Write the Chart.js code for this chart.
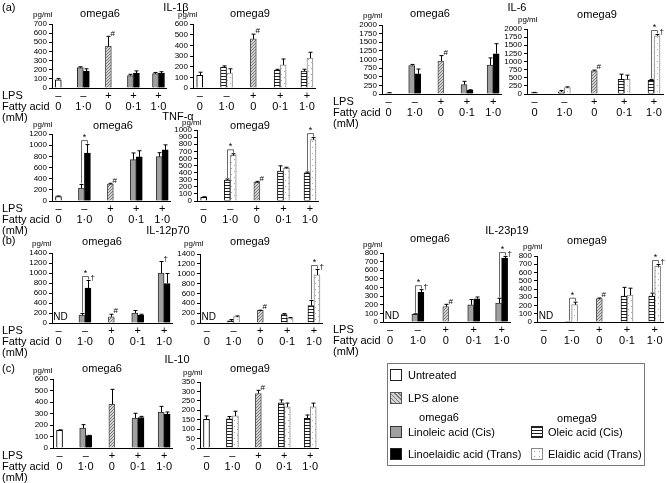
<!DOCTYPE html>
<html>
<head>
<meta charset="utf-8">
<script src="https://cdn.jsdelivr.net/npm/chart.js@4.4.1/dist/chart.umd.min.js"></script>
<style>
  body { margin: 0; background: #fff; }
  #fig { position: relative; width: 667px; height: 483px; overflow: hidden; font-family: "Liberation Sans", Arial, sans-serif; color: #000; }
  #fig canvas { position: absolute; }
  .t { position: absolute; font-size: 11px; line-height: 11px; white-space: nowrap; }
  .rows { position: absolute; font-size: 11px; line-height: 11px; white-space: nowrap; }
  .sw { position: absolute; width: 12px; height: 12px; border: 1px solid #222; box-sizing: border-box; }
</style>
</head>
<body>
<div id="fig"></div>
<script>
const lpsRow = ['–', '–', '+', '+', '+'];
const fattyRow = ['0', '1·0', '0', '0·1', '1·0'];

// bar order: untreated, cis 1·0, trans 1·0, LPS alone, cis 0·1, trans 0·1, cis 1·0, trans 1·0
const il1bO6Mean = [90, 222, 185, 455, 135, 162, 158, 160];
const il1bO6Sd   = [12, 10, 25, 110, 15, 25, 12, 18];
const il1bO6Mark = ['', '', '', '#', '', '', '', ''];
const il1bO6Star = [];

const il1bO9Mean = [118, 195, 140, 460, 165, 217, 158, 280];
const il1bO9Sd   = [30, 12, 40, 45, 10, 55, 18, 55];
const il1bO9Mark = ['', '', '', '#', '', '', '', ''];
const il1bO9Star = [];

const il6O6Mean = [30, 827, 584, 953, 272, 107, 837, 1167];
const il6O6Sd   = [10, 30, 140, 160, 95, 15, 210, 290];
const il6O6Mark = ['', '', '', '#', '', '', '', ''];
const il6O6Star = [];

const il6O9Mean = [40, 65, 195, 710, 450, 450, 420, 1790];
const il6O9Sd   = [10, 45, 25, 25, 160, 130, 30, 40];
const il6O9Mark = ['', '', '', '#', '', '', '', '†'];
const il6O9Star = [4];

const tnfO6Mean = [80, 230, 860, 305, 740, 790, 795, 915];
const tnfO6Sd   = [10, 65, 150, 12, 120, 110, 70, 90];
const tnfO6Mark = ['', '', '', '#', '', '', '', ''];
const tnfO6Star = [1];

const tnfO9Mean = [50, 295, 643, 262, 420, 460, 398, 865];
const tnfO9Sd   = [10, 15, 22, 14, 75, 15, 10, 28];
const tnfO9Mark = ['', '', '', '#', '', '', '', ''];
const tnfO9Star = [1, 4];

const il12O6Mean = [null, 160, 700, 125, 200, 155, 1000, 790];
const il12O6Sd   = [0, 30, 150, 50, 50, 20, 230, 200];
const il12O6Mark = ['', '', '†', '#', '', '', '†', ''];
const il12O6Star = [1];

const il12O9Mean = [null, 45, 128, 255, 170, 100, 355, 975];
const il12O9Sd   = [0, 25, 15, 5, 20, 12, 100, 110];
const il12O9Mark = ['', '', '', '#', '', '', '', '†'];
const il12O9Star = [4];

const il23O6Mean = [null, 90, 345, 180, 200, 270, 220, 740];
const il23O6Sd   = [0, 5, 30, 25, 60, 20, 55, 20];
const il23O6Mark = ['', '', '†', '#', '', '', '', '†'];
const il23O6Star = [1, 4];

const il23O9Mean = [null, 5, 210, 283, 315, 325, 315, 675];
const il23O9Sd   = [0, 0, 30, 8, 105, 85, 35, 22];
const il23O9Mark = ['', '', '', '#', '', '', '', '†'];
const il23O9Star = [1, 4];

const il10O6Mean = [153, 173, 107, 380, 260, 265, 312, 295];
const il10O6Sd   = [5, 30, 3, 130, 42, 10, 50, 18];
const il10O6Mark = ['', '', '', '', '', '', '', ''];
const il10O6Star = [];

const il10O9Mean = [152, 155, 170, 289, 240, 218, 158, 218];
const il10O9Sd   = [18, 12, 25, 17, 15, 20, 17, 20];
const il10O9Mark = ['', '', '', '#', '', '', '', ''];
const il10O9Star = [];

const panels = [
  { mean: il1bO6Mean, sd: il1bO6Sd, mark: il1bO6Mark, star: il1bO6Star, o9: false, max: 700, step: 100, axis: 52, top: 24, zero: 88, right: 166, title: 'omega6', tx: 100, ty: 13, pgx: 33, pgy: 15 },
  { mean: il1bO9Mean, sd: il1bO9Sd, mark: il1bO9Mark, star: il1bO9Star, o9: true, max: 600, step: 100, axis: 193, top: 24, zero: 88, right: 315, title: 'omega9', tx: 250, ty: 13, pgx: 178, pgy: 15 },
  { mean: il6O6Mean, sd: il6O6Sd, mark: il6O6Mark, star: il6O6Star, o9: false, max: 2000, step: 250, axis: 382, top: 25, zero: 94, right: 501, title: 'omega6', tx: 430, ty: 13, pgx: 363, pgy: 16 },
  { mean: il6O9Mean, sd: il6O9Sd, mark: il6O9Mark, star: il6O9Star, o9: true, max: 2000, step: 250, axis: 527, top: 29, zero: 94, right: 663, title: 'omega9', tx: 597, ty: 14, pgx: 518, pgy: 20 },
  { mean: tnfO6Mean, sd: tnfO6Sd, mark: tnfO6Mark, star: tnfO6Star, o9: false, max: 1200, step: 200, axis: 52, top: 134, zero: 201, right: 170, title: 'omega6', tx: 113, ty: 125, pgx: 33, pgy: 125 },
  { mean: tnfO9Mean, sd: tnfO9Sd, mark: tnfO9Mark, star: tnfO9Star, o9: true, max: 1000, step: 100, axis: 197, top: 130, zero: 201, right: 318, title: 'omega9', tx: 250, ty: 125, pgx: 182, pgy: 123 },
  { mean: il12O6Mean, sd: il12O6Sd, mark: il12O6Mark, star: il12O6Star, o9: false, max: 1400, step: 200, axis: 52, top: 253, zero: 323, right: 172, title: 'omega6', tx: 102, ty: 241, pgx: 32, pgy: 244 },
  { mean: il12O9Mean, sd: il12O9Sd, mark: il12O9Mark, star: il12O9Star, o9: true, max: 1400, step: 200, axis: 200, top: 254, zero: 323, right: 322, title: 'omega9', tx: 250, ty: 241, pgx: 184, pgy: 244 },
  { mean: il23O6Mean, sd: il23O6Sd, mark: il23O6Mark, star: il23O6Star, o9: false, max: 800, step: 100, axis: 383, top: 253, zero: 322, right: 510, title: 'omega6', tx: 430, ty: 238, pgx: 363, pgy: 245 },
  { mean: il23O9Mean, sd: il23O9Sd, mark: il23O9Mark, star: il23O9Star, o9: true, max: 800, step: 100, axis: 537, top: 256, zero: 322, right: 663, title: 'omega9', tx: 587, ty: 240, pgx: 523, pgy: 247 },
  { mean: il10O6Mean, sd: il10O6Sd, mark: il10O6Mark, star: il10O6Star, o9: false, max: 600, step: 100, axis: 53, top: 379, zero: 448, right: 172, title: 'omega6', tx: 102, ty: 368, pgx: 33, pgy: 371 },
  { mean: il10O9Mean, sd: il10O9Sd, mark: il10O9Mark, star: il10O9Star, o9: true, max: 350, step: 50, axis: 200, top: 382, zero: 448, right: 318, title: 'omega9', tx: 250, ty: 368, pgx: 183, pgy: 373 }
];

const fig = document.getElementById('fig');
Chart.defaults.font.family = '"Liberation Sans", Arial, sans-serif';

function addText(text, x, y, centered, size) {
  const d = document.createElement('div');
  d.className = 't';
  d.textContent = text;
  d.style.left = x + 'px';
  d.style.top = y + 'px';
  if (size) { d.style.fontSize = size + 'px'; d.style.lineHeight = size + 'px'; }
  d.style.transform = centered ? 'translate(-50%, -50%)' : 'translateY(-50%)';
  fig.appendChild(d);
}

function makePattern(kind) {
  const c = document.createElement('canvas');
  const g = c.getContext('2d');
  if (kind === 'hatch') {
    c.width = 3; c.height = 3;
    g.fillStyle = '#d4d4d4'; g.fillRect(0, 0, 3, 3);
    g.fillStyle = '#7a7a7a';
    for (let i = 0; i < 3; i++) g.fillRect(i, 2 - i, 1, 1);
  } else if (kind === 'stripes') {
    c.width = 3; c.height = 3;
    g.fillStyle = '#fff'; g.fillRect(0, 0, 3, 3);
    g.fillStyle = '#222'; g.fillRect(0, 0, 3, 1);
  } else {
    c.width = 6; c.height = 6;
    g.fillStyle = '#fff'; g.fillRect(0, 0, 6, 6);
    g.fillStyle = '#aaa';
    g.fillRect(1, 1, 1, 1); g.fillRect(4, 4, 1, 1);
  }
  return g.createPattern(c, 'repeat');
}
const hatch = makePattern('hatch');
const stripes = makePattern('stripes');
const dots = makePattern('dots');

const errorBars = {
  id: 'errorBars',
  afterDatasetsDraw(chart, args, opts) {
    const ctx = chart.ctx;
    const y = chart.scales.y;
    const xs = chart.scales.x;
    const tops = {};
    ctx.save();
    ctx.strokeStyle = '#000';
    ctx.fillStyle = '#000';
    ctx.lineWidth = 1;
    chart.data.datasets.forEach((ds, di) => {
      const meta = chart.getDatasetMeta(di);
      ds.data.forEach((p, i) => {
        if (p.y === null) return;
        const bar = meta.data[i];
        const x = Math.round(bar.x) + 0.5;
        const yTop = y.getPixelForValue(p.y + p.sd);
        tops[di + '-' + i] = { x: x, y: yTop };
        if (p.sd > 0) {
          ctx.beginPath();
          ctx.moveTo(x, bar.y);
          ctx.lineTo(x, yTop);
          ctx.moveTo(x - 2, yTop);
          ctx.lineTo(x + 2, yTop);
          ctx.stroke();
        }
        if (p.mark) {
          ctx.font = '8px "Liberation Sans", Arial';
          ctx.textAlign = 'left';
          ctx.textBaseline = 'bottom';
          ctx.fillText(p.mark, x + 2, yTop + 1);
        }
      });
    });
    // brackets between cis and trans bars
    ctx.strokeStyle = '#444';
    ctx.lineWidth = 0.8;
    (opts.stars || []).forEach(g => {
      const a = tops['1-' + g], b = tops['2-' + g];
      if (!a || !b) return;
      const level = Math.min(a.y, b.y) - 4;
      ctx.beginPath();
      ctx.moveTo(a.x, a.y - 1);
      ctx.lineTo(a.x, level);
      ctx.lineTo(b.x, level);
      ctx.lineTo(b.x, b.y - 1);
      ctx.stroke();
      ctx.font = '9px "Liberation Sans", Arial';
      ctx.textAlign = 'center';
      ctx.textBaseline = 'middle';
      ctx.fillText('*', (a.x + b.x) / 2, level - 3);
    });
    const first = chart.data.datasets[0].data[0];
    if (first.y === null) {
      ctx.font = '10px "Liberation Sans", Arial';
      ctx.textAlign = 'center';
      ctx.textBaseline = 'bottom';
      ctx.fillText('ND', xs.getPixelForValue(0) + 2, y.getPixelForValue(0) - 1);
    }
    ctx.restore();
  }
};

function drawPanel(p) {
  const cv = document.createElement('canvas');
  cv.width = p.right - p.axis + 38;
  cv.height = p.zero - p.top + 36;
  cv.style.left = (p.axis - 30) + 'px';
  cv.style.top = (p.top - 8) + 'px';
  fig.appendChild(cv);

  const pt = (x, i) => ({
    x: x,
    y: i === null ? null : p.mean[i],
    sd: i === null ? 0 : (p.sd[i] || 0),
    mark: i === null ? '' : p.mark[i]
  });

  const datasets = [
    { label: 'Untreated', data: [pt(0, 0), pt(1, null), pt(2, null), pt(3, null), pt(4, null)],
      backgroundColor: '#fff', borderColor: '#000' },
    { label: p.o9 ? 'Oleic acid (Cis)' : 'Linoleic acid (Cis)', data: [pt(0, null), pt(1, 1), pt(2, null), pt(3, 4), pt(4, 6)],
      backgroundColor: p.o9 ? stripes : '#a0a0a0', borderColor: p.o9 ? '#111' : '#333' },
    { label: p.o9 ? 'Elaidic acid (Trans)' : 'Linoelaidic acid (Trans)', data: [pt(0, null), pt(1, 2), pt(2, null), pt(3, 5), pt(4, 7)],
      backgroundColor: p.o9 ? dots : '#000', borderColor: p.o9 ? '#888' : '#000' },
    { label: 'LPS alone', data: [pt(0, null), pt(1, null), pt(2, 3), pt(3, null), pt(4, null)],
      backgroundColor: hatch, borderColor: '#555' }
  ];

  new Chart(cv, {
    type: 'bar',
    data: { datasets: datasets },
    options: {
      responsive: false,
      animation: false,
      events: [],
      layout: { padding: { top: 8, right: 8, left: 0, bottom: 0 } },
      datasets: { bar: { barThickness: 6, skipNull: true, borderWidth: 1, borderSkipped: 'start' } },
      plugins: { legend: { display: false }, tooltip: { enabled: false }, errorBars: { stars: p.star } },
      scales: {
        x: {
          type: 'linear', min: -0.25, max: 4.3, offset: false,
          grid: { display: false, drawTicks: false },
          border: { display: true, color: '#000', width: 1 },
          afterBuildTicks: sc => { sc.ticks = [0, 1, 2, 3, 4].map(v => ({ value: v })); },
          afterFit: sc => { sc.height = 28; sc.paddingLeft = 0; sc.paddingRight = 0; },
          ticks: { autoSkip: false, maxRotation: 0, padding: 2, color: '#000',
                   font: { size: 11, lineHeight: 1 },
                   callback: v => [lpsRow[v], fattyRow[v]] }
        },
        y: {
          min: 0, max: p.max,
          grid: { drawOnChartArea: false, tickLength: 3, color: '#000' },
          border: { display: true, color: '#000', width: 1 },
          afterFit: sc => { sc.width = 30; },
          ticks: { stepSize: p.step, autoSkip: false, padding: 2, color: '#000',
                   font: { size: 8, lineHeight: 1 },
                   callback: v => String(v) }
        }
      }
    },
    plugins: [errorBars]
  });

  addText(p.title, p.tx, p.ty, true);
  addText('pg/ml', p.pgx, p.pgy, false, 8);
}

panels.forEach(drawPanel);

// cytokine names and panel letters
addText('(a)', 2, 7, false);
addText('IL-1β', 176, 7, true);
addText('IL-6', 517, 7, true);
addText('TNF-α', 178, 116, true);
addText('(b)', 2, 240, false);
addText('IL-12p70', 168, 230, true);
addText('IL-23p19', 507, 230, true);
addText('(c)', 2, 368, false);
addText('IL-10', 177, 359, true);

// LPS / fatty acid row labels
[[2, 88], [333, 94], [2, 201], [2, 323], [333, 322], [2, 448]].forEach(([x, z]) => {
  const d = document.createElement('div');
  d.className = 'rows';
  d.style.left = x + 'px';
  d.style.top = (z + 2) + 'px';
  d.innerHTML = 'LPS<br>Fatty acid<br>(mM)';
  fig.appendChild(d);
});

// legend box
const box = document.createElement('div');
box.style.cssText = 'position:absolute;left:387px;top:363px;width:256px;height:101px;border:1px solid #777;';
fig.appendChild(box);

function swatch(x, y, bg, border) {
  const s = document.createElement('div');
  s.className = 'sw';
  s.style.left = x + 'px';
  s.style.top = y + 'px';
  s.style.background = bg;
  if (border) s.style.borderColor = border;
  fig.appendChild(s);
}
swatch(390, 369, '#fff');
swatch(390, 392, 'repeating-linear-gradient(45deg, #7a7a7a 0 1px, #d4d4d4 1px 3px)', '#555');
swatch(390, 426, '#a0a0a0', '#333');
swatch(390, 448, '#000');
swatch(531, 426, 'repeating-linear-gradient(180deg, #222 0 1px, #fff 1px 3px)');
swatch(531, 448, 'radial-gradient(#999 0.6px, transparent 0.8px) 0 0 / 5px 5px, #fff', '#888');

addText('Untreated', 408, 375, false);
addText('LPS alone', 408, 398, false);
addText('omega6', 439, 417, true);
addText('Linoleic acid (Cis)', 408, 432, false);
addText('Linoelaidic acid (Trans)', 408, 454, false);
addText('omega9', 577, 418, true);
addText('Oleic acid (Cis)', 548, 432, false);
addText('Elaidic acid (Trans)', 548, 454, false);
</script>
</body>
</html>
